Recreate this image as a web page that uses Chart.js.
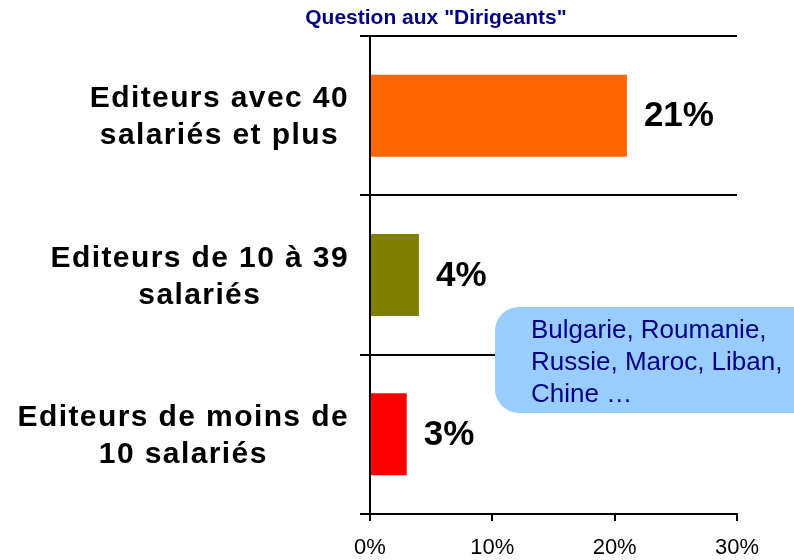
<!DOCTYPE html>
<html>
<head>
<meta charset="utf-8">
<script src="https://cdn.jsdelivr.net/npm/chart.js@4/dist/chart.umd.min.js"></script>
<style>
  body { margin: 0; background: #fff; }
  canvas { display: block; }
</style>
</head>
<body>
<canvas id="chart" width="794" height="560"></canvas>
<script>
// données du graphique
const categories = [
  ['Editeurs avec 40', 'salariés et plus'],
  ['Editeurs de 10 à 39', 'salariés'],
  ['Editeurs de moins de', '10 salariés']
];
const values = [21, 4, 3];
const barColors = ['#FF6600', '#808000', '#FF0000'];
const xTicks = [0, 10, 20, 30];
const title = 'Question aux "Dirigeants"';
const noteLines = ['Bulgarie, Roumanie,', 'Russie, Maroc, Liban,', 'Chine …'];

const FONT = '"Liberation Sans", Arial, sans-serif';

// titre, libellés de catégories, valeurs et bulle
const decorPlugin = {
  id: 'decor',
  afterDatasetsDraw(chart) {
    const ctx = chart.ctx;
    const yScale = chart.scales.y;
    const area = chart.chartArea;

    ctx.save();
    // titre
    ctx.fillStyle = '#000080';
    ctx.font = 'bold 21px ' + FONT;
    ctx.textAlign = 'center';
    ctx.textBaseline = 'middle';
    ctx.fillText(title, 436, 18);

    // libellés de catégories (bloc aligné à droite, lignes centrées)
    ctx.fillStyle = '#000';
    ctx.font = 'bold 30px ' + FONT;
    ctx.letterSpacing = '1.4px';
    categories.forEach((lines, i) => {
      const cy = yScale.getPixelForValue(i) + 2;
      const widest = Math.max(...lines.map(l => ctx.measureText(l).width));
      const cx = area.left - 21 - widest / 2;
      const lh = 37;
      lines.forEach((l, j) => {
        ctx.fillText(l, cx, cy + (j - (lines.length - 1) / 2) * lh);
      });
    });
    ctx.letterSpacing = '0px';

    // valeurs en bout de barre
    ctx.font = 'bold 35px ' + FONT;
    ctx.textAlign = 'left';
    chart.getDatasetMeta(0).data.forEach((bar, i) => {
      ctx.fillText(values[i] + '%', bar.x + 17, bar.y + 1);
    });

    // bulle
    const bx = 495, by = 307, bw = 330, bh = 106, r = 24;
    ctx.fillStyle = '#99CCFF';
    ctx.beginPath();
    ctx.roundRect(bx, by, bw, bh, r);
    ctx.fill();
    ctx.fillStyle = '#000080';
    ctx.font = '26px ' + FONT;
    noteLines.forEach((l, j) => {
      ctx.fillText(l, 531, 331 + j * 32);
    });
    ctx.restore();
  }
};

new Chart(document.getElementById('chart'), {
  type: 'bar',
  data: {
    labels: categories,
    datasets: [{
      data: values,
      backgroundColor: barColors,
      borderWidth: 0,
      barPercentage: 0.515,
      categoryPercentage: 1
    }]
  },
  options: {
    indexAxis: 'y',
    responsive: false,
    animation: false,
    devicePixelRatio: 1,
    layout: { padding: { left: 0, right: 57, top: 36, bottom: 0 } },
    plugins: {
      legend: { display: false },
      tooltip: { enabled: false }
    },
    scales: {
      x: {
        min: xTicks[0],
        max: xTicks[xTicks.length - 1],
        afterBuildTicks(scale) {
          scale.ticks = xTicks.map(v => ({ value: v }));
        },
        afterFit(scale) { scale.height = 46; },
        grid: {
          drawOnChartArea: false,
          drawTicks: true,
          tickLength: 7,
          color: '#000',
          lineWidth: 2
        },
        border: { display: true, color: '#000', width: 2 },
        ticks: {
          padding: 14,
          color: '#000',
          font: { family: FONT, size: 22 },
          callback: v => v + '%'
        }
      },
      y: {
        afterFit(scale) { scale.width = 370; },
        grid: {
          offset: true,
          color: '#000',
          lineWidth: 2,
          tickLength: 10
        },
        border: { display: true, color: '#000', width: 2 },
        ticks: { display: false }
      }
    }
  },
  plugins: [decorPlugin]
});
</script>
</body>
</html>
